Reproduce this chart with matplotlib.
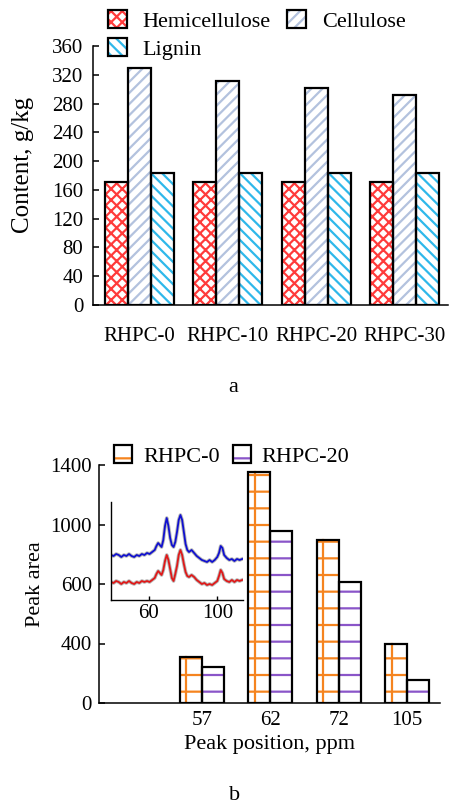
import matplotlib
matplotlib.use("Agg")
import matplotlib.pyplot as plt
from matplotlib.patches import Patch
import numpy as np

plt.rcParams['font.family'] = ['Liberation Serif', 'DejaVu Serif']
plt.rcParams['hatch.linewidth'] = 1.6

# ---------------- data: panel a ----------------
samples = ['RHPC-0', 'RHPC-10', 'RHPC-20', 'RHPC-30']
hemicellulose = [171, 171, 171, 171]
cellulose = [329, 311, 302, 292]
lignin = [183, 183, 183, 183]
a_yticks = [0, 40, 80, 120, 160, 200, 240, 280, 320, 360]

# ---------------- data: panel b ----------------
peak_positions = ['57', '62', '72', '105']
rhpc0_area = [270, 1359, 959, 347]
rhpc20_area = [212, 1012, 712, 135]
b_ytick_labels = ['0', '400', '600', '1000', '1400']

# inset spectra (ppm, intensity arbitrary units)
inset_ppm = [38, 39.5, 41, 42.5, 44, 45.5, 47, 48.5, 50, 51.5, 53, 54.5, 56, 57.5, 59,
             60.5, 62, 63.5, 64.5, 65.5, 66.5, 67.5, 68.5, 69.5, 70.5, 71.5, 72.5, 73.5,
             74.5, 75.5, 76.5, 77.5, 78.5, 79.5, 80.5, 81.5, 82.5, 83.5, 85, 86.5, 88,
             89.5, 91, 92.5, 94, 95.5, 97, 98.5, 100, 101, 102, 103, 104, 105.5, 107,
             108.5, 110, 111.5, 113, 114.5]
inset_blue = [45, 44, 46, 45, 43, 45, 44, 46, 44, 43, 45, 44, 46, 45, 47,
              46, 48, 50, 54, 57, 55, 53, 60, 74, 82, 74, 62, 55,
              53, 58, 68, 80, 85, 80, 68, 56, 50, 48, 50, 47, 44,
              42, 40, 39, 38, 40, 38, 40, 43, 47, 54, 52, 45, 42, 40,
              41, 39, 41, 40, 41]
inset_red = [18, 17, 19, 18, 16, 18, 17, 19, 17, 16, 18, 17, 19, 18, 19,
             18, 20, 22, 26, 29, 27, 25, 30, 39, 45, 40, 31, 22,
             19, 26, 34, 45, 50, 45, 36, 28, 24, 23, 25, 23, 20,
             18, 16, 17, 15, 16, 15, 17, 19, 24, 30, 27, 21, 19, 18,
             20, 18, 20, 19, 20]
inset_xticks = [60, 100]

W, H = 457, 807
fig = plt.figure(figsize=(W / 100, H / 100), dpi=100)


def px_axes(l, t, r, b):
    return fig.add_axes([l / W, 1 - b / H, (r - l) / W, (b - t) / H])


def hatched_bars(ax, x, h, width, color, hatch, lw=1.6):
    b1 = ax.bar(x, h, width, color='white', edgecolor=color, hatch=hatch, linewidth=0, zorder=2)
    b2 = ax.bar(x, h, width, facecolor='none', edgecolor='black', linewidth=lw, zorder=3)
    handle = (Patch(facecolor='white', edgecolor=color, hatch=hatch, linewidth=0),
              Patch(facecolor='none', edgecolor='black', linewidth=lw))
    return b1, b2, handle


def style_axes(ax):
    for s in ['top', 'right']:
        ax.spines[s].set_visible(False)
    for s in ['left', 'bottom']:
        ax.spines[s].set_linewidth(1.1)


# ---------------- panel a ----------------
axa = px_axes(93, 46, 448, 305)
style_axes(axa)
xa = np.arange(len(samples))
wa = 0.26
_, _, h_hemi = hatched_bars(axa, xa - wa, hemicellulose, wa, '#ff3b3b', 'xxx')
_, _, h_cell = hatched_bars(axa, xa, cellulose, wa, '#b3c2de', '///')
_, _, h_lig = hatched_bars(axa, xa + wa, lignin, wa, '#2fb8ea', '\\\\\\')
axa.set_xlim(-0.52, 3.49)
axa.set_ylim(0, 360)
axa.set_yticks(a_yticks)
axa.set_xticks(xa)
axa.set_xticklabels(samples)
axa.tick_params(axis='y', direction='in', length=4, width=1.1, labelsize=15, pad=7)
axa.tick_params(axis='x', length=0, labelsize=15, pad=16)
axa.set_ylabel('Content, g/kg', fontsize=18)
axa.yaxis.set_label_coords(-0.165, 0.54)
fig.legend([h_hemi, h_lig, h_cell], ['Hemicellulose', 'Lignin', 'Cellulose'],
           loc='upper left', bbox_to_anchor=(108 / W, 1 - 10 / H), ncol=2,
           frameon=False, fontsize=16, handlelength=0.85, handleheight=0.85,
           handletextpad=0.7, columnspacing=0.75, labelspacing=0.3,
           borderpad=0, borderaxespad=0)
fig.text(233 / W, 1 - 388 / H, 'a', ha='center', va='center', fontsize=16)

# ---------------- panel b ----------------
axb = px_axes(99, 465, 440, 703)
style_axes(axb)
xb = np.arange(1, len(peak_positions) + 1)
wb = 0.32
b1, _, h_r0 = hatched_bars(axb, xb - wb / 2, rhpc0_area, wb, '#f5841f', '-')
_, _, h_r20 = hatched_bars(axb, xb + wb / 2, rhpc20_area, wb, '#8a55c8', '-')
# one vertical hatch stroke inside each RHPC-0 bar
for r in b1.patches:
    x0 = r.get_x() + 0.3 * r.get_width()
    axb.plot([x0, x0], [0, r.get_height()], color='#f5841f', lw=1.6, zorder=2.5)
axb.set_xlim(-0.5, 4.48)
axb.set_ylim(0, 1400)
axb.set_yticks(np.linspace(0, 1400, len(b_ytick_labels)))
axb.set_yticklabels(b_ytick_labels)
axb.set_xticks(xb)
axb.set_xticklabels(peak_positions)
axb.tick_params(axis='y', direction='in', length=4, width=1.1, labelsize=15, pad=5)
axb.tick_params(axis='x', length=0, labelsize=15, pad=6)
axb.set_xlabel('Peak position, ppm', fontsize=16, labelpad=3)
axb.set_ylabel('Peak area', fontsize=16, labelpad=4)
fig.legend([h_r0, h_r20], ['RHPC-0', 'RHPC-20'],
           loc='upper left', bbox_to_anchor=(114 / W, 1 - 445 / H), ncol=2,
           frameon=False, fontsize=16, handlelength=0.8, handleheight=0.85,
           handletextpad=0.5, columnspacing=0.6,
           borderpad=0, borderaxespad=0)
fig.text(235 / W, 1 - 796 / H, 'b', ha='center', va='center', fontsize=16)

# ---------------- inset ----------------
axi = px_axes(111, 502, 243, 600)
for s in ['top', 'right']:
    axi.spines[s].set_visible(False)
for s in ['left', 'bottom']:
    axi.spines[s].set_linewidth(1.0)
axi.patch.set_alpha(0)
axi.plot(inset_ppm, inset_blue, color='#888888', lw=2.6, alpha=0.6)
axi.plot(inset_ppm, inset_blue, color='#1010d0', lw=1.3)
axi.plot(inset_ppm, inset_red, color='#888888', lw=2.6, alpha=0.6)
axi.plot(inset_ppm, inset_red, color='#e01818', lw=1.3)
axi.set_xlim(38, 115)
axi.set_ylim(0, 98)
axi.set_yticks([])
axi.set_xticks(inset_xticks)
axi.tick_params(axis='x', direction='in', length=3, width=1.0, labelsize=15, pad=3)

fig.savefig('out.png', dpi=100)
